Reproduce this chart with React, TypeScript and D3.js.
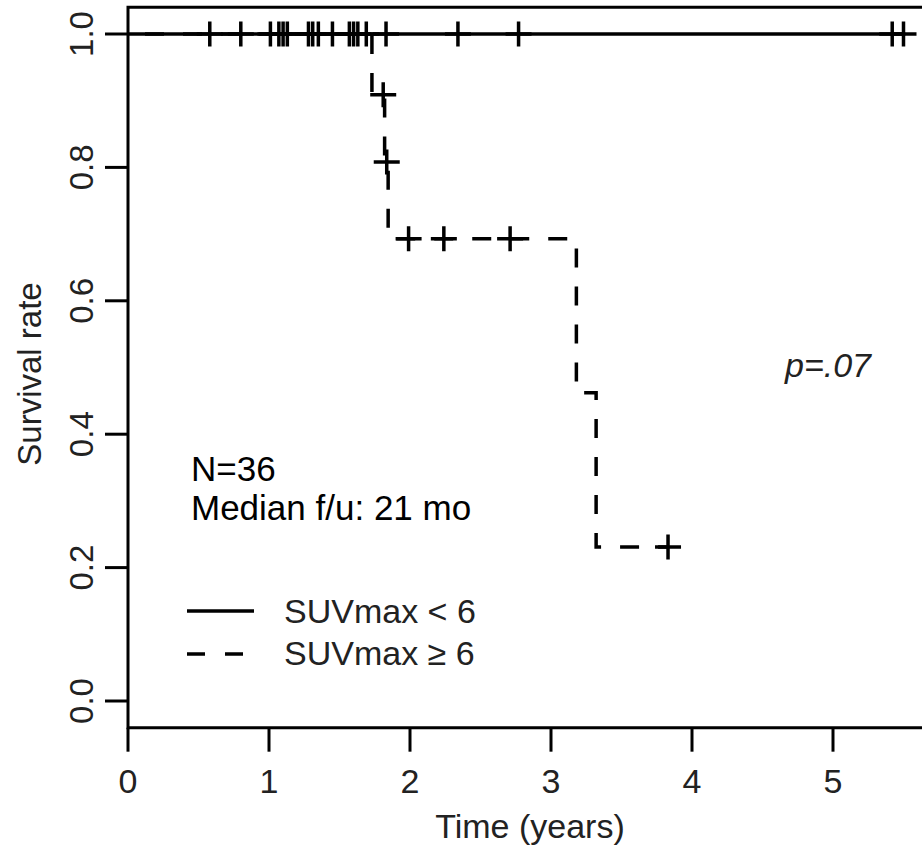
import React from "react";
import * as d3 from "d3";

// ---- data ----
const xTicks = [0, 1, 2, 3, 4, 5];
const yTicks = [0, 0.2, 0.4, 0.6, 0.8, 1.0];
const yTickLabels = ["0.0", "0.2", "0.4", "0.6", "0.8", "1.0"];

// SUVmax < 6 : no events, end of follow-up
const lowTimes = [0, 5.5];
const lowSurv = [1, 1];
const lowCensor = [0.58, 0.8, 1.01, 1.07, 1.1, 1.13, 1.28, 1.31, 1.35, 1.45, 1.57, 1.6, 1.63, 1.69, 1.83, 2.34, 2.77, 5.42, 5.5];

// SUVmax >= 6 : step function
const highTimes = [0, 1.73, 1.82, 1.845, 3.18, 3.32, 3.83];
const highSurv = [1, 0.909, 0.808, 0.693, 0.462, 0.231, 0.231];
const highCensorT = [1.81, 1.835, 1.99, 2.24, 2.71, 3.83];
const highCensorS = [0.909, 0.808, 0.693, 0.693, 0.693, 0.231];

const legendLabels = ["SUVmax < 6", "SUVmax \u2265 6"];

const W = 922;
const H = 849;
const FONT = "'Liberation Sans', Arial, Helvetica, sans-serif";

export default function App() {
  const x = d3.scaleLinear().domain([0, 5]).range([128, 833]);
  const y = d3.scaleLinear().domain([0, 1]).range([701, 34]);

  const line = d3
    .line<[number, number]>()
    .x((d) => x(d[0]))
    .y((d) => y(d[1]))
    .curve(d3.curveStepAfter);

  const lowPts: [number, number][] = lowTimes.map((t, i) => [t, lowSurv[i]]);
  const highPts: [number, number][] = highTimes.map((t, i) => [t, highSurv[i]]);

  const cross = (cx: number, cy: number) =>
    `M${cx - 13},${cy}h26M${cx},${cy - 12.5}v25`;

  const boxLeft = x(0);
  const boxTop = y(1.04);
  const boxBottom = y(-0.04);
  const sw = 3.5;

  return (
    <svg
      width={W}
      height={H}
      style={{ position: "absolute", left: 0, top: 0, background: "#fff" }}
      fontFamily={FONT}
    >
      <rect x={0} y={0} width={W} height={H} fill="#fff" />
      {/* box */}
      <path
        d={`M${W + 10},${boxTop}H${boxLeft}V${boxBottom}H${W + 10}`}
        fill="none"
        stroke="#000"
        strokeWidth={3}
      />
      {/* y axis ticks & labels */}
      {yTicks.map((v, i) => (
        <g key={"y" + i}>
          <line x1={boxLeft - 23} x2={boxLeft} y1={y(v)} y2={y(v)} stroke="#000" strokeWidth={3} />
          <text
            transform={`translate(93,${y(v)}) rotate(-90)`}
            textAnchor="middle"
            fontSize={33}
            fill="#222"
          >
            {yTickLabels[i]}
          </text>
        </g>
      ))}
      {/* x axis ticks & labels */}
      {xTicks.map((v, i) => (
        <g key={"x" + i}>
          <line x1={x(v)} x2={x(v)} y1={boxBottom} y2={boxBottom + 24} stroke="#000" strokeWidth={3} />
          <text x={x(v)} y={793} textAnchor="middle" fontSize={34} fill="#222">
            {String(v)}
          </text>
        </g>
      ))}
      <text x={530} y={838} textAnchor="middle" fontSize={34} fill="#222">
        Time (years)
      </text>
      <text transform={`translate(41,374) rotate(-90)`} textAnchor="middle" fontSize={33} fill="#222">
        Survival rate
      </text>

      {/* curves */}
      <path d={line(lowPts) || ""} fill="none" stroke="#000" strokeWidth={sw} />
      {lowCensor.map((t, i) => (
        <path key={"lc" + i} d={cross(x(t), y(1))} stroke="#000" strokeWidth={sw} fill="none" />
      ))}
      <path
        d={line(highPts) || ""}
        fill="none"
        stroke="#000"
        strokeWidth={sw}
        strokeDasharray="19,19"
        strokeDashoffset={21}
      />
      {highCensorT.map((t, i) => (
        <path key={"hc" + i} d={cross(x(t), y(highCensorS[i]))} stroke="#000" strokeWidth={sw} fill="none" />
      ))}

      {/* annotations */}
      <text x={191} y={481} fontSize={35} fill="#000">N=36</text>
      <text x={191} y={520} fontSize={35} fill="#000">Median f/u: 21 mo</text>
      <text x={785} y={377} fontSize={34} fontStyle="italic" fill="#222">p=.07</text>

      {/* legend */}
      <line x1={187} x2={254} y1={611} y2={611} stroke="#000" strokeWidth={sw} />
      <line x1={187} x2={254} y1={654} y2={654} stroke="#000" strokeWidth={sw} strokeDasharray="18,20" />
      <text x={284} y={623} fontSize={34} fill="#222">{legendLabels[0]}</text>
      <text x={284} y={665} fontSize={34} fill="#222">{legendLabels[1]}</text>
    </svg>
  );
}
